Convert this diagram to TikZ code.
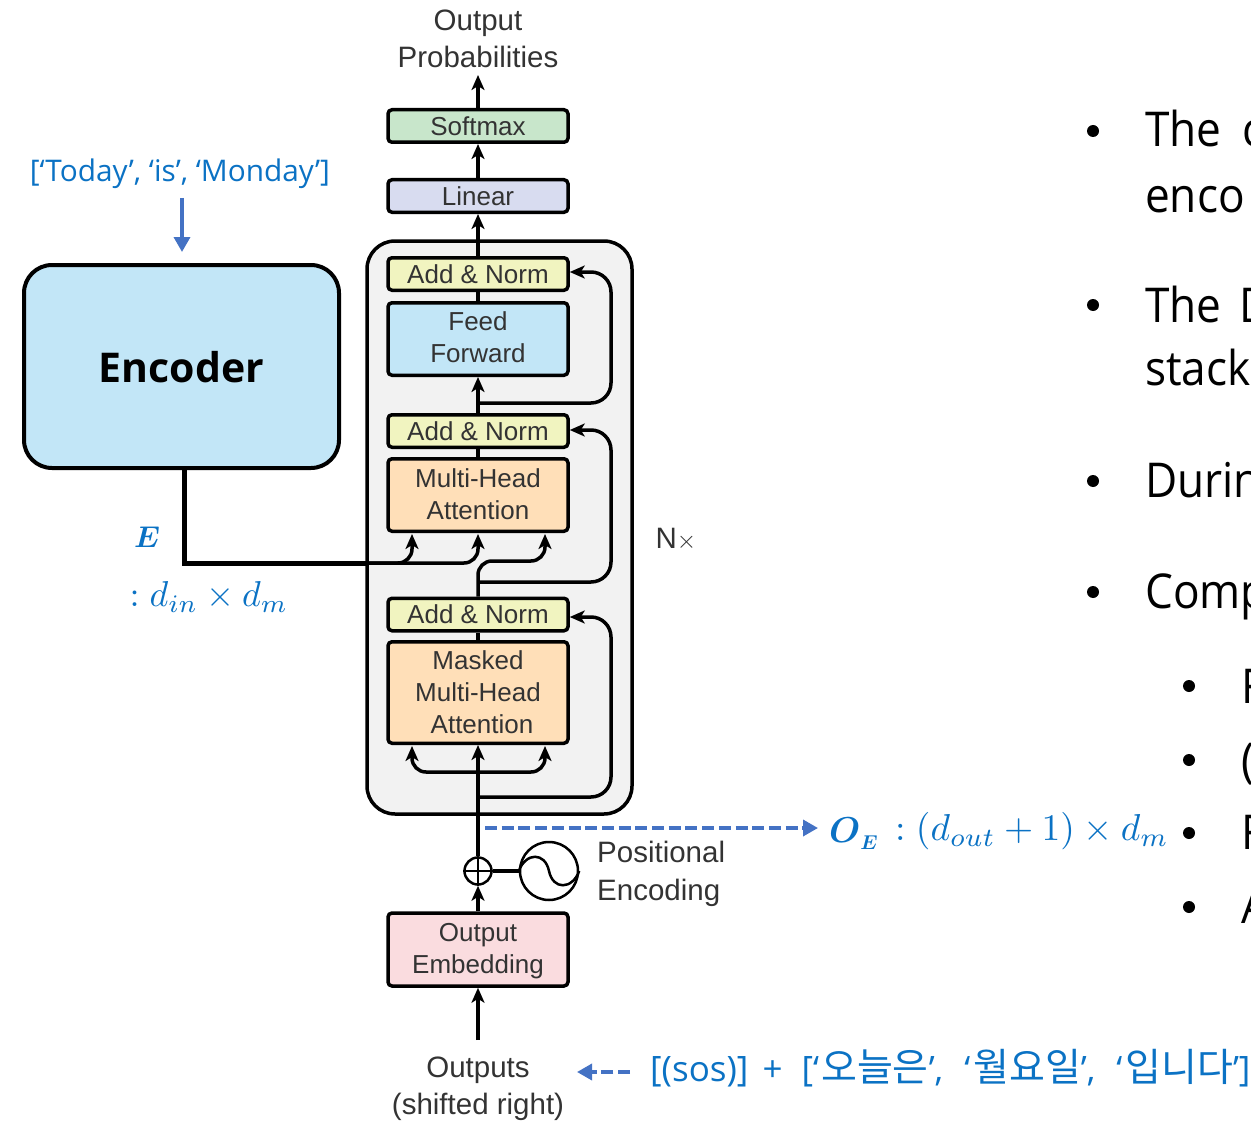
\documentclass[tikz,border=0pt]{standalone}
\usepackage{graphicx}
\usepackage{fontspec}
\usepackage{bm}
\setmainfont{Liberation Sans}
\newfontfamily\slidefont{Open Sans}
\newfontfamily\narrowfont[FakeStretch=0.92]{Open Sans}
\newfontfamily\cjk{Noto Sans CJK KR}
\usetikzlibrary{arrows.meta}
\definecolor{softmaxfill}{HTML}{C8E6CB}
\definecolor{linearfill}{HTML}{D8DCF0}
\definecolor{normfill}{HTML}{F1F4C0}
\definecolor{feedfill}{HTML}{C2E6F7}
\definecolor{attnfill}{HTML}{FFDFB8}
\definecolor{embedfill}{HTML}{FADCDF}
\definecolor{stackfill}{HTML}{F2F2F2}
\definecolor{notecolor}{HTML}{0B72C4}
\definecolor{hintcolor}{HTML}{4472C4}
\definecolor{labelgray}{HTML}{333333}
\newcommand{\nudge}[2]{\raisebox{#1}[\height][\depth]{#2}}
\newcommand{\hangul}[1]{{\cjk\fontsize{39}{40}\selectfont #1}}
\begin{document}
\begin{tikzpicture}[x=1pt,y=-1pt]
    % Define the styles for the boxes, labels and arrows
    \tikzstyle{block}=[rectangle, rounded corners=4pt, draw=black, line width=3.5pt, minimum width=180pt, inner sep=0pt, align=center, text=labelgray, font=\fontsize{26}{32}\selectfont]
    \tikzstyle{label}=[inner sep=0pt, align=center, text=labelgray, font=\fontsize{29.5}{37}\selectfont]
    \tikzstyle{note}=[inner sep=0pt, text=notecolor, font=\slidefont\fontsize{29.8}{34}\selectfont]
    \tikzstyle{mathnote}=[inner sep=0pt, text=notecolor]
    \tikzstyle{slide}=[inner sep=0pt, anchor=base west, font=\narrowfont\fontsize{48}{58}\selectfont]
    \tikzstyle{arrow}=[line width=3.5pt,->,>={Stealth[length=15pt,width=13pt,inset=4pt]}]
    \tikzstyle{wire}=[line width=3.5pt]
    \tikzstyle{hint}=[line width=3.5pt, draw=hintcolor, -{Triangle[length=15pt,width=16pt]}]
    \tikzstyle{hintdash}=[dash pattern=on 12pt off 4.7pt]

    \useasboundingbox (0,0) rectangle (1251,1121);
    \clip (0,0) rectangle (1251,1121);

    % Draw the decoder stack behind everything
    \node[rectangle, rounded corners=28pt, draw=black, line width=3.5pt, fill=stackfill, minimum width=265pt, minimum height=573pt, inner sep=0pt] (decoder_stack) at (499.5,527.5) {};

    % Draw the boxes
    \node[block, fill=softmaxfill, minimum height=32.5pt] (softmax) at (478,126) {Softmax};
    \node[block, fill=linearfill, minimum height=32.5pt] (linear) at (478,196) {Linear};
    \node[block, fill=normfill, minimum height=32.5pt] (add_norm_top) at (478,274) {Add \& Norm};
    \node[block, fill=feedfill, minimum height=72.5pt] (feed_forward) at (478,339) {\nudge{2pt}{Feed}\\\nudge{2pt}{Forward}};
    \node[block, fill=normfill, minimum height=32.5pt] (add_norm_mid) at (478,431) {Add \& Norm};
    \node[block, fill=attnfill, minimum height=72.5pt] (attention) at (478,495) {\nudge{1pt}{Multi-Head}\\\nudge{1pt}{Attention}};
    \node[block, fill=normfill, minimum height=32.5pt] (add_norm_low) at (478,614.5) {Add \& Norm};
    \node[block, fill=attnfill, minimum height=101.5pt] (masked) at (478,692.5) {Masked\\Multi-Head\\\hspace*{8pt}Attention};
    \node[block, fill=embedfill, minimum height=73pt] (embedding) at (478,949.5) {\nudge{-2pt}{Output}\\\nudge{-2pt}{Embedding}};
    \node[rectangle, rounded corners=28pt, draw=black, line width=4pt, fill=feedfill, minimum width=315pt, minimum height=203pt, inner sep=0pt, font=\slidefont\bfseries\fontsize{41}{48}\selectfont] (encoder) at (181.5,366.5) {\nudge{-1pt}{Encoder}};

    % Draw the plain labels
    \node[label] (probabilities) at (478,39) {Output\\Probabilities};
    \node[label] (outputs) at (478,1089) {Outputs\\(shifted right)};
    \node[label, align=left, anchor=west, font=\fontsize{29.5}{38}\selectfont] (pos_label) at (597,874) {Positional\\Encoding};
    \node[label] (repeat_label) at (676,539) {N$\times$};

    % Draw the positional encoding parts
    \node[circle, draw=black, line width=2.5pt, fill=white, minimum size=27pt, inner sep=0pt] (add_pos) at (478,871) {};
    \draw[line width=1.5pt] (add_pos.north) -- (add_pos.south);
    \draw[line width=1.5pt] (add_pos.west) -- (add_pos.east);
    \node[circle, draw=black, line width=2.5pt, minimum size=58pt, inner sep=0pt] (pos_enc) at (549,871) {};
    \draw[line width=2.5pt] (pos_enc.west) .. controls (526,852) and (545,852) .. (549,871) .. controls (553,890) and (572,890) .. (pos_enc.east);
    \draw[wire] (add_pos.east) -- (pos_enc.west);

    % Free ends and turning points of the arrows
    \coordinate (top_end) at (478,75);
    \coordinate (input_end) at (478,1040);
    \coordinate (ff_branch) at (478,403);
    \coordinate (ff_right) at (611,403);
    \coordinate (ff_top) at (611,272);
    \coordinate (mid_branch) at (478,582);
    \coordinate (mid_right) at (611,582);
    \coordinate (mid_top) at (611,430);
    \coordinate (low_branch) at (478,797);
    \coordinate (low_right) at (611,797);
    \coordinate (low_top) at (611,617);
    \coordinate (enc_corner) at (184,563);
    \coordinate (enc_end) at (367,563);
    \coordinate (attn_left) at (412,534);
    \coordinate (attn_mid) at (478,534);
    \coordinate (attn_right) at (545,534);
    \coordinate (attn_turn) at (478,561);
    \coordinate (attn_over) at (545,561);
    \coordinate (mask_turn) at (478,772);
    \coordinate (mask_left) at (412,746);
    \coordinate (mask_right) at (545,746);

    % Draw the arrows between the boxes
    \draw[arrow] (softmax) -- (top_end);
    \draw[arrow] (linear) -- (softmax);
    \draw[arrow] (add_norm_top) -- (linear);
    \draw[wire] (feed_forward) -- (add_norm_top);
    \draw[arrow] (add_norm_mid) -- (feed_forward);
    \draw[wire] (attention) -- (add_norm_mid);
    \draw[wire] (masked) -- (add_norm_low);
    \draw[arrow] (add_pos) -- (masked);
    \draw[arrow] (embedding) -- (add_pos);
    \draw[arrow] (input_end) -- (embedding);

    % Draw the residual loops
    \draw[arrow, rounded corners=20pt] (ff_branch) -- (ff_right) -- (ff_top) -- ([yshift=2pt]add_norm_top.east);
    \draw[arrow, rounded corners=20pt] (mid_branch) -- (mid_right) -- (mid_top) -- ([yshift=1pt]add_norm_mid.east);
    \draw[arrow, rounded corners=20pt] (low_branch) -- (low_right) -- (low_top) -- ([yshift=-2.5pt]add_norm_low.east);

    % Draw the attention inputs
    \draw[line width=5pt] (encoder.south -| enc_corner) -- (enc_corner) -- (enc_end);
    \draw[arrow, rounded corners=14pt] (enc_end) -| (attn_left);
    \draw[arrow, rounded corners=14pt] (enc_end) -| (attn_mid);
    \draw[arrow, rounded corners=14pt] (add_norm_low.north) -- (attn_turn) -- (attn_over) -- (attn_right);
    \draw[arrow, rounded corners=14pt] (mask_turn) -| (mask_left);
    \draw[arrow, rounded corners=14pt] (mask_turn) -| (mask_right);

    % Draw the blue notes
    \node[note] (enc_input) at (180,174) {[‘Today’, ‘is’, ‘Monday’]};
    \coordinate (enc_hint) at (182,198);
    \coordinate (enc_hint_end) at (182,252);
    \draw[hint] (enc_hint) -- (enc_hint_end);
    \node[mathnote] (enc_symbol) at (147,537) {\scalebox{3}{$\bm{E}$}};
    \node[mathnote] (enc_dims) at (209,597) {\scalebox{3.6}{$:d_{in}\times d_m$}};
    \coordinate (oe_hint) at (485,828);
    \coordinate (oe_hint_end) at (818,828);
    \node[mathnote, anchor=base west] (oe_symbol) at (829,842) {\scalebox{3.6}{$\bm{O}$}\raisebox{-7pt}{\scalebox{2}{$\bm{E}$}}};
    \node[mathnote, anchor=west] (oe_dims) at (895,831) {\scalebox{3.75}{$:(d_{out}+1)\times d_m$}};
    \draw[hint, hintdash] (oe_hint) -- (oe_hint_end);
    \node[note, anchor=base west, font=\slidefont\fontsize{35}{40}\selectfont] (dec_input) at (650,1081) {[(sos)]\hspace{5pt} + \hspace{10pt}[‘\hspace{2pt}\hangul{오늘은}’,\hspace{21pt}‘\hspace{3pt}\hangul{월요일}’,\hspace{21pt}‘\hspace{3pt}\hangul{입니다}’]};
    \coordinate (dec_hint) at (630,1072);
    \coordinate (dec_hint_end) at (577,1072);
    \draw[hint, hintdash] (dec_hint) -- (dec_hint_end);

    % Draw the slide text that runs off the page
    \foreach \bx/\by/\bname in {1093/131/a, 1093/305/b, 1093/481/c, 1093/592/d, 1189/686/e, 1189/760/f, 1189/833/g, 1189/907/h}
        \node[circle, fill=black, minimum size=12pt, inner sep=0pt] (bullet_\bname) at (\bx,\by) {};
    \node[slide] (line_a) at (1145,147) {The\hspace{10pt} c};
    \node[slide] (line_b) at (1145,212) {enco};
    \node[slide] (line_c) at (1145,322) {The\hspace{7pt} D};
    \node[slide] (line_d) at (1145,385) {stack};
    \node[slide] (line_e) at (1145,497) {Durin};
    \node[slide] (line_f) at (1145,608) {Comp};
    \node[slide] (line_g) at (1241,703) {F};
    \node[slide] (line_h) at (1241,777) {(};
    \node[slide] (line_i) at (1241,849) {F};
    \node[slide] (line_j) at (1241,923) {A};
\end{tikzpicture}
\end{document}
